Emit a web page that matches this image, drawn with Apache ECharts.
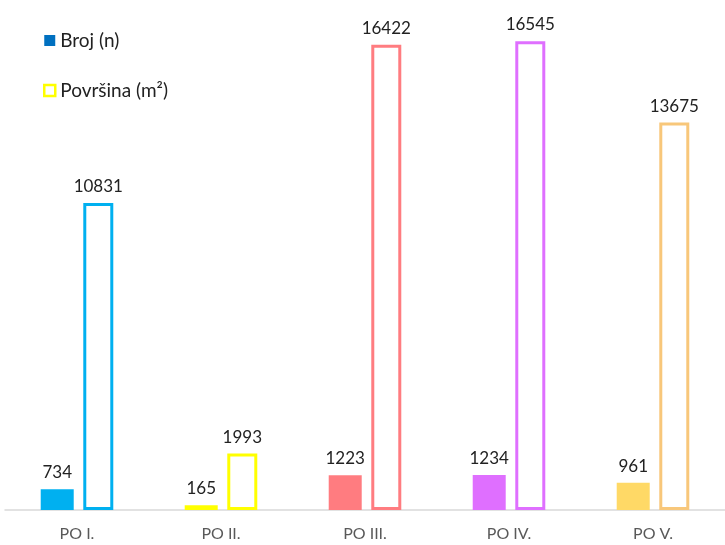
<!DOCTYPE html>
<html>
<head>
<meta charset="utf-8">
<script src="https://cdn.jsdelivr.net/npm/echarts@6/dist/echarts.min.js"></script>
<style>html,body{margin:0;padding:0;background:#fff;}#c{width:725px;height:545px;}</style>
</head>
<body>
<div id="c"></div>
<script>
const categories = ['PO I.', 'PO II.', 'PO III.', 'PO IV.', 'PO V.'];
const brojValues = [734, 165, 1223, 1234, 961];
const povrsinaValues = [10831, 1993, 16422, 16545, 13675];
const fillColors = ['#00B0F0', '#FFFF00', '#FF7C80', '#DF6FFF', '#FFD966'];
const outlineColors = ['#00B0F0', '#FFFF00', '#FF7C80', '#DF6FFF', '#F8C77A'];
const seriesNames = ['Broj (n)', 'Površina (m²)'];

const chart = echarts.init(document.getElementById('c'), null, {renderer: 'canvas'});
const font = 'Lato, "Open Sans", sans-serif';
chart.setOption({
  animation: false,
  backgroundColor: '#fff',
  textStyle: {fontFamily: font},
  legend: {
    orient: 'vertical',
    left: 38, top: 26,
    itemWidth: 11, itemHeight: 11,
    itemGap: 31,
    textStyle: {fontSize: 19, color: '#222', fontFamily: font},
    data: [
      {name: seriesNames[0], icon: 'rect', itemStyle: {color: '#0070C0'}},
      {name: seriesNames[1], icon: 'rect', itemStyle: {color: '#fff', borderColor: '#FFFF00', borderWidth: 2.5}}
    ]
  },
  grid: {left: 5, width: 724, top: 0, bottom: 35},
  xAxis: {
    type: 'category',
    data: categories,
    axisLine: {lineStyle: {color: '#D9D9D9', width: 1.5}},
    axisTick: {show: false},
    axisLabel: {color: '#595959', fontSize: 16, margin: 16, fontFamily: font}
  },
  yAxis: {
    type: 'value', min: 0, max: 18000,
    show: false
  },
  series: [
    {
      name: seriesNames[0], type: 'bar',
      barWidth: 33, barGap: '29%',
      itemStyle: {color: '#0070C0'},
      label: {show: true, position: 'top', distance: 8, fontSize: 17, color: '#222', fontFamily: font},
      data: brojValues.map((v, i) => ({value: v, itemStyle: {color: fillColors[i]}}))
    },
    {
      name: seriesNames[1], type: 'bar',
      barWidth: 30,
      itemStyle: {color: '#fff', borderColor: '#FFFF00', borderWidth: 3},
      label: {show: true, position: 'top', distance: 8, fontSize: 17, color: '#222', fontFamily: font},
      data: povrsinaValues.map((v, i) => ({value: v, itemStyle: {color: '#fff', borderColor: outlineColors[i], borderWidth: 3}}))
    }
  ]
});
</script>
</body>
</html>
